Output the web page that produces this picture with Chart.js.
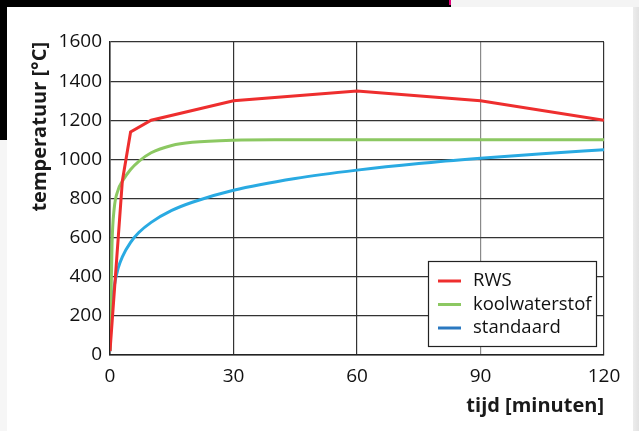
<!DOCTYPE html>
<html>
<head>
<meta charset="utf-8">
<script src="https://cdn.jsdelivr.net/npm/chart.js@4"></script>
<style>
  html, body { margin: 0; padding: 0; background: #fff; }
  #wrap { position: relative; width: 639px; height: 431px; overflow: hidden; background: #fff; }
  .band { position: absolute; }
  canvas { position: absolute; left: 0; top: 0; }
</style>
</head>
<body>
<div id="wrap">
  <div class="band" style="left:0;top:0;width:451px;height:7px;background:#000"></div>
  <div class="band" style="left:451px;top:0;width:188px;height:7px;background:#f4f4f4"></div>
  <div class="band" style="left:449px;top:0;width:2px;height:5px;background:#e0007a"></div>
  <div class="band" style="left:0;top:0;width:7px;height:140px;background:#000"></div>
  <div class="band" style="left:0;top:140px;width:7px;height:291px;background:#f6f6f6"></div>
  <div class="band" style="left:633px;top:7px;width:6px;height:424px;background:linear-gradient(to right,#ececec,#e2e2e2)"></div>
  <canvas id="fireChart" width="639" height="431"></canvas>
</div>
<script>
// RWS curve
const rwsTime = [0, 3, 5, 10, 30, 60, 90, 120];
const rwsTemp = [20, 890, 1140, 1200, 1300, 1350, 1300, 1200];

// koolwaterstof curve
const hcTime = [0, 0.5, 1, 2, 3, 5, 7, 10, 15, 20, 30, 40, 60, 90, 120];
const hcTemp = [20, 570, 745, 845, 888, 948, 990, 1034, 1071, 1087, 1098, 1100, 1100, 1100, 1100];

// standaard curve
const stdTime = [0, 0.25, 0.5, 1, 2, 3, 5, 7, 10, 15, 20, 30, 45, 60, 75, 90, 105, 120];
const stdTemp = [20, 185, 261, 349, 445, 502, 576, 626, 678, 739, 781, 842, 902, 945, 979, 1006, 1029, 1049];

const seriesNames = ['RWS', 'koolwaterstof', 'standaard'];
const xTicks = [0, 30, 60, 90, 120];
const yTicks = [0, 200, 400, 600, 800, 1000, 1200, 1400, 1600];

function toPoints(xs, ys) {
  return xs.map((x, i) => ({ x: x, y: ys[i] }));
}

// legend box in lower right of the plot
const boxLegend = {
  id: 'boxLegend',
  afterDraw(chart) {
    const ctx = chart.ctx;
    const a = chart.chartArea;
    const x = a.right - 176, y = a.bottom - 94, w = 168, h = 85;
    ctx.save();
    ctx.fillStyle = '#fff';
    ctx.fillRect(x, y, w, h);
    ctx.strokeStyle = '#222';
    ctx.lineWidth = 1.2;
    ctx.strokeRect(x + 0.5, y + 0.5, w, h);
    ctx.font = '18.5px "Open Sans"';
    ctx.textBaseline = 'middle';
    ctx.fillStyle = '#111';
    chart.data.datasets.forEach((ds, i) => {
      const ly = y + 20 + i * 23.5;
      ctx.strokeStyle = ds.legendColor;
      ctx.lineWidth = 3;
      ctx.beginPath();
      ctx.moveTo(x + 10, ly);
      ctx.lineTo(x + 33, ly);
      ctx.stroke();
      ctx.fillText(ds.label, x + 45, ly);
    });
    ctx.restore();
  }
};

const ctx = document.getElementById('fireChart').getContext('2d');
const fireChart = new Chart(ctx, {
  type: 'line',
  data: {
    datasets: [{
      label: seriesNames[0],
      data: toPoints(rwsTime, rwsTemp),
      borderColor: '#ee2e2e',
      legendColor: '#ee2e2e',
      borderWidth: 3,
      pointRadius: 0,
      tension: 0
    }, {
      label: seriesNames[1],
      data: toPoints(hcTime, hcTemp),
      borderColor: '#8cc862',
      legendColor: '#8cc862',
      borderWidth: 3,
      pointRadius: 0,
      cubicInterpolationMode: 'monotone'
    }, {
      label: seriesNames[2],
      data: toPoints(stdTime, stdTemp),
      borderColor: '#29aae2',
      legendColor: '#2a78c0',
      borderWidth: 3,
      pointRadius: 0,
      cubicInterpolationMode: 'monotone'
    }]
  },
  options: {
    responsive: false,
    animation: false,
    events: [],
    layout: { padding: { left: 28, right: 35, top: 42, bottom: 13 } },
    plugins: { legend: { display: false }, tooltip: { enabled: false } },
    scales: {
      x: {
        type: 'linear',
        min: 0,
        max: 120,
        afterBuildTicks: s => { s.ticks = xTicks.map(v => ({ value: v })); },
        afterFit: s => { s.height = 431 - 13 - 355; },
        ticks: {
          color: '#111', padding: 10,
          font: { family: 'Open Sans', size: 19 },
          callback: v => String(v)
        },
        grid: {
          drawTicks: false,
          lineWidth: 1.2,
          color: c => (c.tick && c.tick.value === 90) ? '#8a8a8a' : '#333'
        },
        border: { color: '#222', width: 1.5 },
        title: {
          display: true,
          text: 'tijd [minuten]',
          align: 'end',
          color: '#1a1a1a',
          padding: 0,
          font: { family: 'Open Sans', size: 20, weight: 'bold' }
        }
      },
      y: {
        min: 0,
        max: 1600,
        afterBuildTicks: s => { s.ticks = yTicks.map(v => ({ value: v })); },
        afterFit: s => { s.width = 110 - 28; },
        ticks: {
          color: '#111', padding: 8,
          font: { family: 'Open Sans', size: 19 },
          callback: v => String(v)
        },
        grid: { drawTicks: false, lineWidth: 1.2, color: '#333' },
        border: { color: '#222', width: 1.5 },
        title: {
          display: true,
          text: 'temperatuur [°C]',
          align: 'end',
          color: '#1a1a1a',
          padding: 0,
          font: { family: 'Open Sans', size: 20, weight: 'bold' }
        }
      }
    }
  },
  plugins: [boxLegend]
});
</script>
</body>
</html>
